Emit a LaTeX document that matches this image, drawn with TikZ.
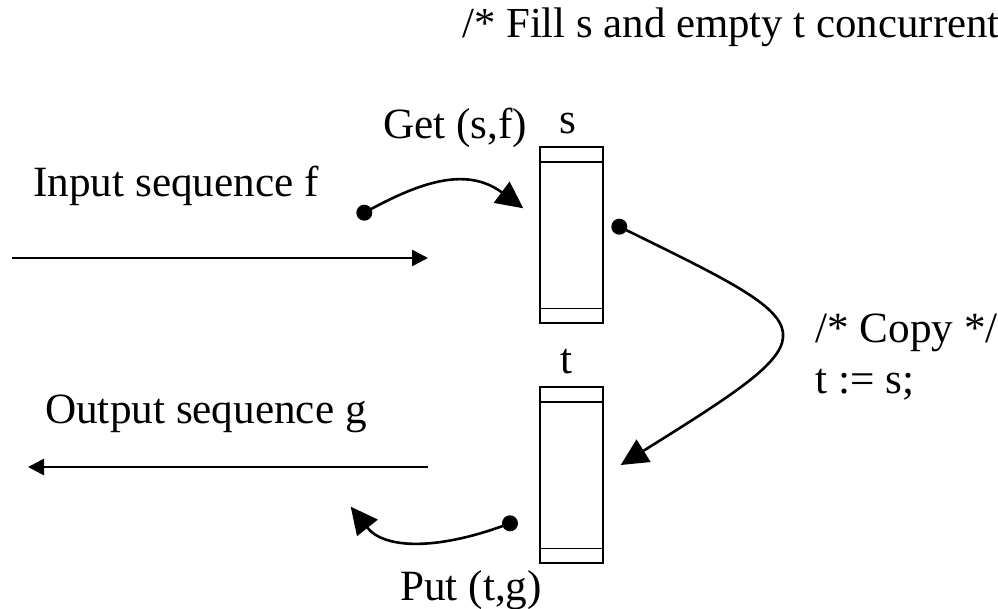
\documentclass[tikz,border=0pt]{standalone}
\usepackage{fontspec}
\setmainfont{Liberation Serif}
\usetikzlibrary{arrows.meta}
\begin{document}
\begin{tikzpicture}[x=1pt,y=-1pt,
  txt/.style={anchor=base west,inner sep=0pt,font=\fontsize{43.2}{51}\selectfont},
  lbl/.style={anchor=base,inner sep=0pt,font=\fontsize{43.2}{51}\selectfont},
  buf/.style={draw,line width=2pt,minimum width=63pt,inner sep=0pt},
  dotnode/.style={circle,fill=black,minimum size=16pt,inner sep=0pt},
  bigarrow/.style={line width=2.6pt,-{Triangle[length=27pt,width=26pt]}},
  seqarrow/.style={line width=2.7pt,-{Triangle[length=16pt,width=16pt]}}]
\useasboundingbox (0,0) rectangle (998,608);

% buffers
\node[buf,minimum height=176.6pt] (s) at (571.7,235) {};
\node[buf,minimum height=176pt] (t) at (571.7,474.7) {};
\draw[line width=1.6pt] ([yshift=-16pt]s.north west) -- ([yshift=-16pt]s.north east);
\draw[line width=1.6pt] ([yshift=16pt]s.south west) -- ([yshift=16pt]s.south east);
\draw[line width=1.6pt] ([yshift=-16pt]t.north west) -- ([yshift=-16pt]t.north east);
\draw[line width=1.6pt] ([yshift=15.4pt]t.south west) -- ([yshift=15.4pt]t.south east);

% labels
\node[txt,font=\fontsize{42.8}{51}\selectfont] (title) at (462,37) {/* Fill s and empty t concurrent};
\node[lbl] (slbl) at (567.7,133) {s};
\node[lbl] (tlbl) at (566,373) {t};
\node[txt] (inlbl) at (33,196.7) {Input sequence f};
\node[txt] (outlbl) at (45,423) {Output sequence g};
\node[txt] (getlbl) at (383,138) {Get (s,f)};
\node[txt] (putlbl) at (400,600) {Put (t,g)};
\node[txt] (copy1) at (815,342) {/* Copy */};
\node[txt] (copy2) at (815,393) {t := s;};

% sequences
\coordinate (inA) at (12,258);
\coordinate (inB) at (428,258);
\coordinate (outA) at (428,467);
\coordinate (outB) at (28,467);
\draw[seqarrow] (inA) -- (inB);
\draw[seqarrow] (outA) -- (outB);

% get / copy / put
\node[dotnode] (getdot) at (364.3,212.7) {};
\node[dotnode] (copydot) at (619.3,226.7) {};
\node[dotnode] (putdot) at (510,523.3) {};
\coordinate (gettip) at (523.3,208.3);
\coordinate (copytip) at (620.7,465);
\coordinate (puttip) at (350.7,506.7);

\draw[bigarrow] (getdot.center) .. controls (416.5,184) and (465,165) .. (gettip);
\draw[bigarrow] (copydot.center) .. controls (830,330) and (837,330) .. (copytip);
\draw[bigarrow] (putdot.center) .. controls (440,550) and (385,550) .. (puttip);
\end{tikzpicture}
\end{document}
